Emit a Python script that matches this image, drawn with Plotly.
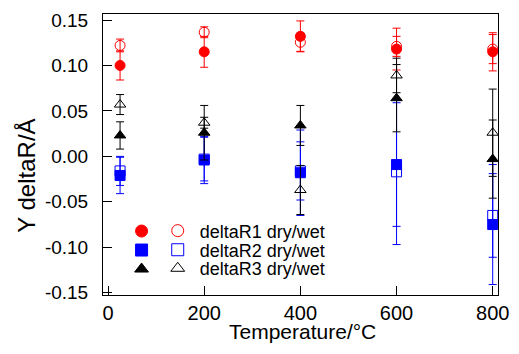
import plotly.graph_objects as go

temps = [25, 200, 400, 600, 800]

r1_dry = [0.100, 0.115, 0.132, 0.118, 0.115]
r1_dry_err = [0.016, 0.017, 0.017, 0.023, 0.021]
r1_wet = [0.122, 0.1365, 0.1255, 0.121, 0.118]
r1_wet_err = [0.007, 0.006, 0.010, 0.011, 0.016]

r2_dry = [-0.021, -0.004, -0.018, -0.009, -0.075]
r2_dry_err = [0.020, 0.026, 0.047, 0.068, 0.066]
r2_wet = [-0.016, -0.003, -0.016, -0.017, -0.065]
r2_wet_err = [0.016, 0.024, 0.032, 0.080, 0.046]

r3_dry = [0.023, 0.026, 0.034, 0.064, -0.003]
r3_dry_err = [0.015, 0.030, 0.022, 0.037, 0.043]
r3_wet = [0.057, 0.037, -0.037, 0.089, 0.026]
r3_wet_err = [0.011, 0.006, 0.027, 0.019, 0.048]

x_ticks = [0, 200, 400, 600, 800]
y_ticks = [-0.15, -0.10, -0.05, 0.0, 0.05, 0.10, 0.15]
y_tick_labels = ["-0.15", "-0.10", "-0.05", "0.00", "0.05", "0.10", "0.15"]

x_title = "Temperature/°C"
y_title = "Y deltaR/Å"
legend_labels = ["deltaR1 dry/wet", "deltaR2 dry/wet", "deltaR3 dry/wet"]

RED = "#ff0000"
BLUE = "#0000ff"
BLACK = "#000000"
FONT = "Liberation Sans, Arial, sans-serif"

series = [
    (r1_dry, r1_dry_err, RED, "circle"),
    (r1_wet, r1_wet_err, RED, "circle-open"),
    (r2_dry, r2_dry_err, BLUE, "square"),
    (r2_wet, r2_wet_err, BLUE, "square-open"),
    (r3_dry, r3_dry_err, BLACK, "triangle-up"),
    (r3_wet, r3_wet_err, BLACK, "triangle-up-open"),
]

fig = go.Figure()
for vals, errs, col, sym in series:
    fig.add_trace(go.Scatter(
        x=temps, y=vals, mode="markers", showlegend=False,
        marker=dict(symbol=sym, size=10, color=col, line=dict(color=col, width=1)),
        error_y=dict(type="data", array=errs, visible=True, color=col, thickness=1, width=4),
    ))

# legend rows: filled symbols share one legend; each open symbol + label has its own legend
row_y = [0.228, 0.160, 0.094]
for i, (vals, errs, col, sym) in enumerate(series):
    dry = (i % 2 == 0)
    row = i // 2
    fig.add_trace(go.Scatter(
        x=[None], y=[None], mode="markers",
        name="" if dry else legend_labels[row],
        legend="legend" if dry else "legend%d" % (row + 2),
        marker=dict(symbol=sym, size=12, color=col, line=dict(color=col, width=1)),
    ))

axis_common = dict(
    showline=True, linecolor="#000000", linewidth=1, mirror=True,
    ticks="inside", ticklen=9, tickcolor="#000000", tickwidth=1,
    showgrid=False, zeroline=False, automargin=False,
)

legend_common = dict(
    xanchor="left", yanchor="middle",
    bgcolor="rgba(0,0,0,0)", borderwidth=0, tracegroupgap=0,
)

# the page body has an 8px margin, so the figure is sized to fit inside it
fig.update_layout(
    width=503, height=338,
    margin=dict(l=95, r=13, t=6, b=51),
    paper_bgcolor="white", plot_bgcolor="white",
    font=dict(family=FONT, size=19, color="#000000"),
    xaxis=dict(
        range=[-10.5, 811], tickvals=x_ticks, ticklabelstandoff=0,
        tickfont=dict(family=FONT, size=20, color="#000000"),
        **axis_common,
    ),
    yaxis=dict(
        range=[-0.1525, 0.1566], tickvals=y_ticks, ticktext=y_tick_labels,
        ticklabelstandoff=10,
        tickfont=dict(family=FONT, size=19, color="#000000"),
        **axis_common,
    ),
    annotations=[
        dict(
            text=y_title, xref="paper", yref="paper", x=-0.1924, y=0.4245,
            xanchor="center", yanchor="middle", textangle=-90, showarrow=False,
            font=dict(family=FONT, size=24, color="#000000"),
        ),
        dict(
            text=x_title, xref="paper", yref="paper", x=0.504, y=-0.178,
            xanchor="center", yanchor="bottom", showarrow=False,
            font=dict(family=FONT, size=21, color="#000000"),
        ),
    ],
    legend=dict(x=0.047, y=row_y[1], font=dict(family=FONT, size=12), itemwidth=30, **legend_common),
    legend2=dict(x=0.1335, y=row_y[0], font=dict(family=FONT, size=18), itemwidth=34, **legend_common),
    legend3=dict(x=0.1335, y=row_y[1], font=dict(family=FONT, size=18), itemwidth=34, **legend_common),
    legend4=dict(x=0.1335, y=row_y[2], font=dict(family=FONT, size=18), itemwidth=34, **legend_common),
)

fig.write_html("out.html")
